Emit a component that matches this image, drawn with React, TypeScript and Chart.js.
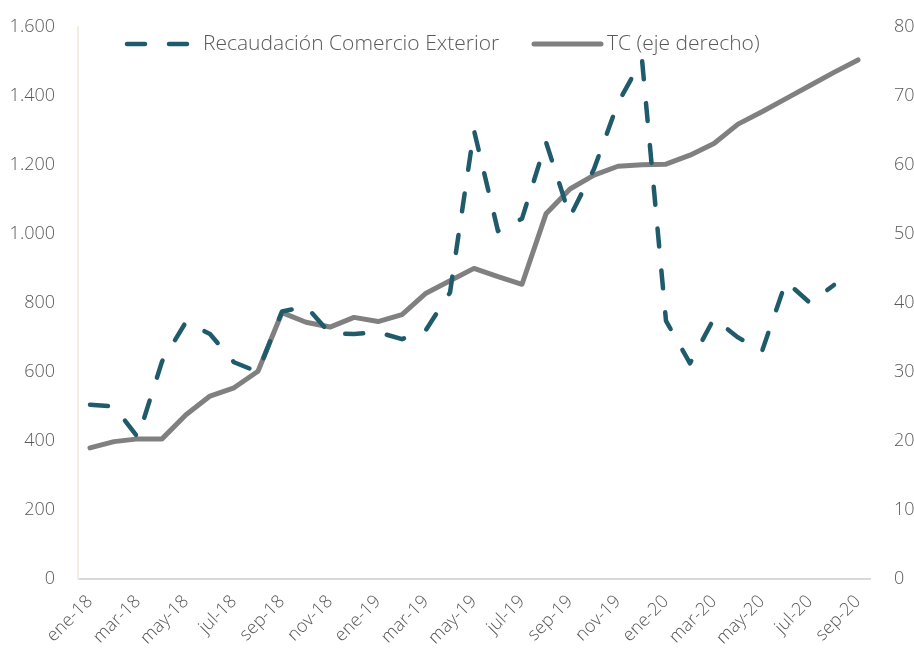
import React, { useEffect, useRef } from "react";
import { Chart, registerables } from "chart.js";

Chart.register(...registerables);

const months: string[] = [
  "ene-18","feb-18","mar-18","abr-18","may-18","jun-18","jul-18","ago-18","sep-18","oct-18","nov-18","dic-18",
  "ene-19","feb-19","mar-19","abr-19","may-19","jun-19","jul-19","ago-19","sep-19","oct-19","nov-19","dic-19",
  "ene-20","feb-20","mar-20","abr-20","may-20","jun-20","jul-20","ago-20","sep-20",
];

const recaudacion: (number | null)[] = [
  505, 500, 410, 630, 745, 710, 628, 600, 775, 790, 712, 710,
  715, 695, 722, 830, 1300, 1008, 1044, 1266, 1050, 1188, 1380, 1505,
  748, 625, 755, 700, 660, 862, 800, 852, null,
];

const tipoCambio: number[] = [
  19.0, 19.9, 20.3, 20.3, 23.8, 26.5, 27.7, 30.1, 38.6, 37.2, 36.5, 37.9,
  37.3, 38.3, 41.4, 43.2, 45.0, 43.8, 42.7, 52.9, 56.5, 58.5, 59.8, 60.0,
  60.1, 61.4, 63.1, 65.9, 67.7, 69.6, 71.5, 73.4, 75.2,
];

const seriesNames = ["Recaudación Comercio Exterior", "TC (eje derecho)"];

const TEAL = "#1f5b6b";
const GRAY = "#808080";
const TEXT = "#595959";
const FONT = "'Open Sans', 'Noto Sans', sans-serif";

const legendPlugin = {
  id: "customLegend",
  afterDraw(chart: any) {
    const ctx = chart.ctx as CanvasRenderingContext2D;
    const y = 44;
    ctx.save();
    ctx.lineCap = "round";
    ctx.strokeStyle = TEAL;
    ctx.lineWidth = 4.5;
    ctx.setLineDash([18, 24]);
    ctx.beginPath();
    ctx.moveTo(127, y);
    ctx.lineTo(188, y);
    ctx.stroke();
    ctx.setLineDash([]);
    ctx.strokeStyle = GRAY;
    ctx.lineWidth = 5;
    ctx.beginPath();
    ctx.moveTo(534, y);
    ctx.lineTo(601, y);
    ctx.stroke();
    ctx.fillStyle = TEXT;
    ctx.font = `300 21px ${FONT}`;
    ctx.textBaseline = "middle";
    ctx.textAlign = "left";
    ctx.fillText(seriesNames[0], 203, y);
    ctx.fillText(seriesNames[1], 607, y);
    ctx.restore();
  },
};

export default function App() {
  const canvasRef = useRef<HTMLCanvasElement | null>(null);

  useEffect(() => {
    if (!canvasRef.current) return;
    const chart = new Chart(canvasRef.current, {
      type: "line",
      data: {
        labels: months,
        datasets: [
          {
            label: seriesNames[0],
            data: recaudacion,
            yAxisID: "y",
            borderColor: TEAL,
            backgroundColor: TEAL,
            borderWidth: 4.5,
            borderDash: [18, 24],
            borderCapStyle: "round",
            borderJoinStyle: "round",
            pointRadius: 0,
            tension: 0,
            spanGaps: false,
            order: 1,
          },
          {
            label: seriesNames[1],
            data: tipoCambio,
            yAxisID: "y1",
            borderColor: GRAY,
            backgroundColor: GRAY,
            borderWidth: 5,
            borderCapStyle: "round",
            borderJoinStyle: "round",
            pointRadius: 0,
            tension: 0,
            order: 2,
          },
        ],
      },
      options: {
        animation: false,
        responsive: true,
        maintainAspectRatio: false,
        layout: { padding: { top: 23, left: 0, right: 0, bottom: 0 } },
        plugins: {
          legend: { display: false },
          tooltip: { enabled: false },
        },
        scales: {
          x: {
            offset: true,
            grid: { display: false },
            border: { display: true, color: "#d9d9d9", width: 2 },
            ticks: {
              autoSkip: false,
              maxRotation: 45,
              minRotation: 45,
              color: TEXT,
              padding: 4,
              font: { family: FONT, size: 18, weight: "300" },
              callback: (_v: any, i: number) => (i % 2 === 0 ? months[i] : ""),
            },
            afterFit: (scale: any) => {
              scale.height = 69;
            },
          },
          y: {
            position: "left",
            min: 0,
            max: 1600,
            grid: { display: false },
            border: { display: true, color: "#f2eee4", width: 2 },
            ticks: {
              stepSize: 200,
              color: TEXT,
              padding: 15,
              font: { family: FONT, size: 18, weight: "300" },
              callback: (v: any) => Number(v).toLocaleString("de-DE"),
            },
            afterFit: (scale: any) => {
              scale.width = 78;
            },
          },
          y1: {
            position: "right",
            min: 0,
            max: 80,
            grid: { display: false },
            border: { display: false },
            ticks: {
              stepSize: 10,
              color: TEXT,
              padding: 16,
              font: { family: FONT, size: 18, weight: "300" },
            },
            afterFit: (scale: any) => {
              scale.width = 44;
            },
          },
        },
      },
      plugins: [legendPlugin],
    });
    return () => chart.destroy();
  }, []);

  return (
    <div style={{ position: "fixed", left: 0, top: 0, width: 914, height: 648, background: "#fff" }}>
      <canvas ref={canvasRef} />
    </div>
  );
}
